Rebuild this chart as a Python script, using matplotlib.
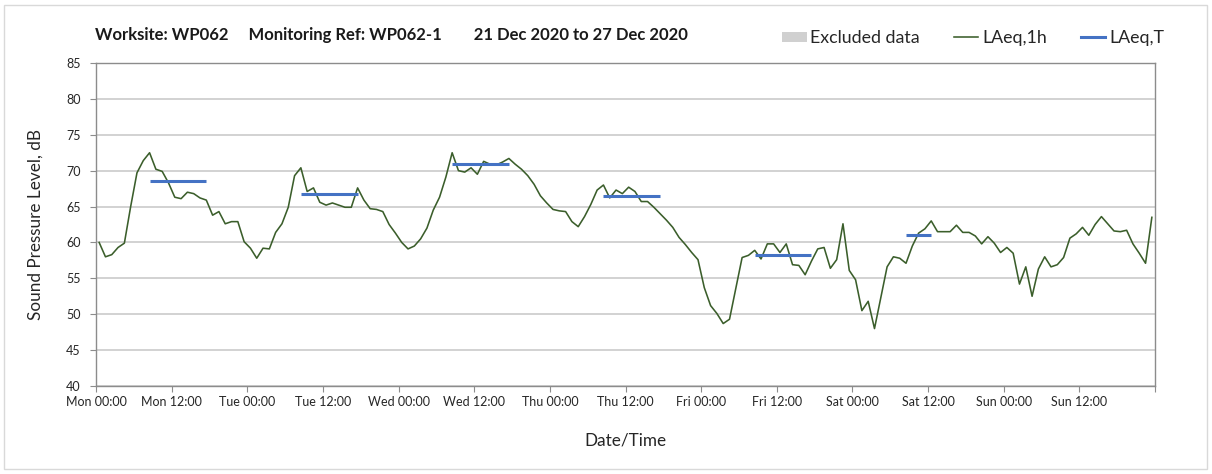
#!/usr/bin/env python3
# -*- coding: utf-8 -*-
"""
Weekly noise monitoring chart: hourly LAeq with period LAeq,T bars
"""
import numpy as np
import matplotlib
matplotlib.use('Agg')
import matplotlib.pyplot as plt
from matplotlib.patches import Patch, Rectangle
from matplotlib.lines import Line2D
from matplotlib.ticker import MultipleLocator

# Hourly LAeq,1h (dB), Mon 00:00 -> Sun 23:00
laeq_1h = [
    60.0, 58.0, 58.3, 59.3, 59.9, 65.0, 69.7, 71.4, 72.5, 70.2, 69.9, 68.3,
    66.3, 66.1, 67.0, 66.8, 66.2, 65.9, 63.8, 64.3, 62.6, 62.9, 62.9, 60.1,
    59.2, 57.8, 59.2, 59.1, 61.4, 62.6, 64.9, 69.3, 70.4, 67.1, 67.6, 65.6,
    65.2, 65.5, 65.2, 64.9, 64.9, 67.6, 65.9, 64.7, 64.6, 64.3, 62.5, 61.3,
    60.0, 59.1, 59.5, 60.5, 62.0, 64.5, 66.3, 69.1, 72.5, 70.0, 69.8, 70.4,
    69.5, 71.3, 70.9, 70.8, 71.2, 71.7, 70.9, 70.2, 69.3, 68.1, 66.5, 65.5,
    64.6, 64.4, 64.3, 62.9, 62.2, 63.6, 65.3, 67.3, 68.0, 66.2, 67.3, 66.8,
    67.7, 67.1, 65.7, 65.7, 64.9, 64.0, 63.1, 62.1, 60.7, 59.7, 58.6, 57.6,
    53.7, 51.2, 50.1, 48.7, 49.3, 53.6, 57.9, 58.2, 58.9, 57.7, 59.8, 59.8,
    58.6, 59.8, 56.9, 56.8, 55.5, 57.4, 59.1, 59.3, 56.4, 57.6, 62.6, 56.1,
    54.8, 50.5, 51.8, 48.0, 52.3, 56.6, 58.0, 57.8, 57.1, 59.5, 61.3, 61.9,
    63.0, 61.5, 61.5, 61.5, 62.4, 61.4, 61.4, 60.9, 59.8, 60.8, 59.9, 58.6,
    59.3, 58.5, 54.2, 56.6, 52.5, 56.3, 58.0, 56.6, 56.9, 57.9, 60.6, 61.2,
    62.1, 61.0, 62.5, 63.6, 62.6, 61.6, 61.5, 61.7, 59.8, 58.5, 57.1, 63.5,
]

# LAeq,T periods (hours from Mon 00:00) and levels
period_start = [8, 32, 56, 80, 104, 128]
period_end   = [18, 42, 66, 90, 114, 133]
laeq_t       = [68.5, 66.8, 70.9, 66.5, 58.2, 61.0]

tick_labels = ['Mon 00:00', 'Mon 12:00', 'Tue 00:00', 'Tue 12:00',
               'Wed 00:00', 'Wed 12:00', 'Thu 00:00', 'Thu 12:00',
               'Fri 00:00', 'Fri 12:00', 'Sat 00:00', 'Sat 12:00',
               'Sun 00:00', 'Sun 12:00', '']

TITLE = 'Worksite: WP062     Monitoring Ref: WP062-1        21 Dec 2020 to 27 Dec 2020'

GREEN = '#3B5E2B'
BLUE  = '#4472C4'
GREY  = '#D0D0D0'
AXIS  = '#8C8C8C'
TEXT  = '#262626'

plt.rcParams['font.family'] = ['Lato', 'DejaVu Sans']

fig = plt.figure(figsize=(12.12, 4.74), dpi=100)
axis = fig.add_axes([96 / 1212, 1 - 386 / 474, (1155 - 96) / 1212, (386 - 63) / 474])

hours = np.arange(len(laeq_1h)) + 0.5
axis.plot(hours, laeq_1h, color=GREEN, linewidth=1.15, zorder=3)

for start, end, level in zip(period_start, period_end, laeq_t):
    axis.plot([start + 0.5, end - 0.5], [level, level],
              color=BLUE, linewidth=2.2, solid_capstyle='butt', zorder=4)

axis.set_xlim(0, 168)
axis.set_ylim(40, 85)
axis.set_xticks(np.arange(0, 169, 12))
axis.set_xticklabels(tick_labels)
axis.xaxis.set_minor_locator(MultipleLocator(24))
axis.yaxis.set_major_locator(MultipleLocator(5))

axis.grid(True, which='major', axis='y', color='#C6C6C6', linewidth=1.1)
axis.grid(True, which='minor', axis='x', color='#DADADA', linewidth=1.1)
axis.set_axisbelow(True)

for side in ['left', 'bottom', 'top', 'right']:
    axis.spines[side].set_color(AXIS)
    axis.spines[side].set_linewidth(1.0)

axis.tick_params(axis='both', which='major', direction='out', length=4,
                 color=AXIS, labelsize=9, labelcolor=TEXT)
axis.tick_params(axis='y', which='major', pad=7)
axis.tick_params(axis='x', which='major', pad=3)
axis.tick_params(axis='x', which='minor', length=0)

axis.set_ylabel('Sound Pressure Level, dB', fontsize=12.3, color=TEXT, labelpad=16)
axis.set_xlabel('Date/Time', fontsize=12.3, color=TEXT, labelpad=18)

fig.text(95 / 1212, 1 - 35 / 474, TITLE, fontsize=12, fontweight='bold',
         color='#1A1A1A', ha='left', va='center')

handles = [Patch(facecolor=GREY, edgecolor='none', label='Excluded data'),
           Line2D([], [], color=GREEN, linewidth=1.15, label='LAeq,1h'),
           Line2D([], [], color=BLUE, linewidth=2.2, label='LAeq,T')]
fig.legend(handles=handles, loc='center right', ncol=3, frameon=False,
           bbox_to_anchor=(1164 / 1212, 1 - 38 / 474), fontsize=12.8,
           borderaxespad=0, borderpad=0,
           handlelength=1.4, handleheight=0.5, handletextpad=0.2,
           columnspacing=1.9, labelcolor=TEXT)

fig.patches.append(Rectangle((4 / 1212, 5 / 474), 1203 / 1212, 464 / 474,
                             transform=fig.transFigure, fill=False,
                             edgecolor='#D9D9D9', linewidth=1.0))

fig.savefig('out.png', dpi=100, facecolor='white')
